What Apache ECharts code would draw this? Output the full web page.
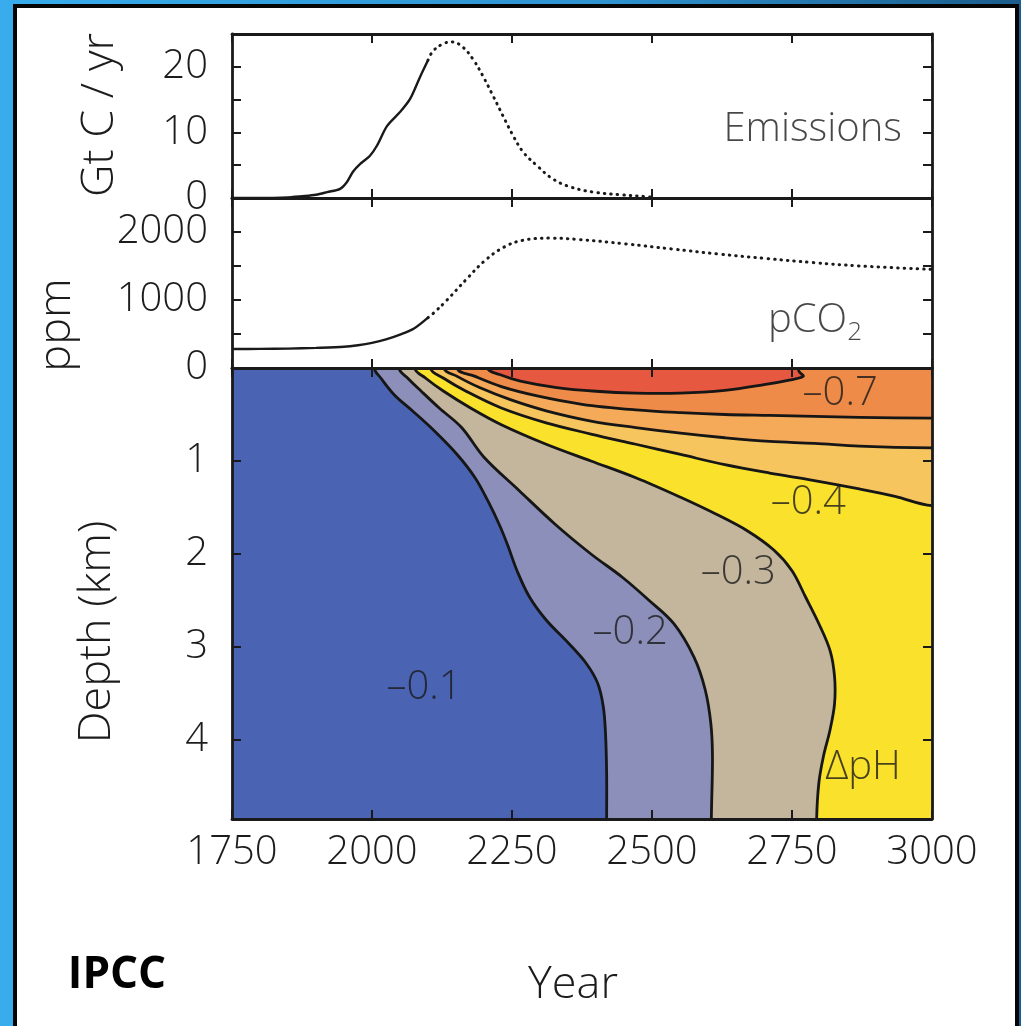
<!DOCTYPE html>
<html>
<head>
<meta charset="utf-8">
<script src="https://cdn.jsdelivr.net/npm/echarts@6/dist/echarts.min.js"></script>
<style>
  html, body { margin: 0; padding: 0; }
  body {
    width: 1021px; height: 1026px; overflow: hidden; position: relative;
    background: linear-gradient(90deg, #38acec 0%, #2f93cf 60%, #1b5d8c 100%);
  }
  #frame {
    position: absolute; left: 13px; top: 4px; width: 998px; height: 1060px;
    border: 4px solid #050505; background: #ffffff;
  }
  #chart { position: absolute; left: 0; top: 0; width: 1021px; height: 1026px; }
</style>
</head>
<body>
<div id="frame"></div>
<div id="chart"></div>
<script>
// ---- axes ----
const YEAR_MIN = 1750, YEAR_MAX = 3000, YEAR_STEP = 250;
const EMIS_MAX = 25, EMIS_STEP = 5;
const PCO2_MAX = 2500, PCO2_STEP = 500;
const DEPTH_MAX = 4.85, DEPTH_STEP = 1;

// ---- carbon emissions (Gt C / yr) ----
const emissionsHistory = [
  [1750, 0], [1800, 0], [1850, 0.1], [1880, 0.3], [1900, 0.5], [1920, 0.9],
  [1943, 1.4], [1955, 2.4], [1966, 4.0], [1979, 5.2], [1996, 6.4], [2009, 8.0],
  [2027, 11.0], [2050, 13.1], [2068, 15.1], [2086, 18.5], [2100, 21.0]
];
const emissionsProjection = [
  [2100, 21.0], [2109, 22.4], [2127, 23.5], [2143, 23.8], [2162, 23.0], [2180, 21.2],
  [2198, 18.6], [2216, 15.6], [2234, 12.5], [2252, 9.5], [2270, 7.0], [2295, 4.9],
  [2323, 2.9], [2354, 1.7], [2395, 0.9], [2443, 0.5], [2491, 0.2], [2500, 0.1]
];

// ---- atmospheric pCO2 (ppm) ----
const pco2History = [
  [1750, 280], [1800, 281], [1850, 285], [1900, 296], [1950, 312], [1975, 335],
  [2000, 370], [2025, 420], [2050, 490], [2075, 580], [2100, 740]
];
const pco2Projection = [
  [2100, 740], [2109, 800], [2134, 1000], [2168, 1300], [2201, 1575], [2235, 1775],
  [2268, 1875], [2318, 1910], [2369, 1890], [2453, 1825], [2536, 1750], [2620, 1675],
  [2704, 1610], [2788, 1550], [2872, 1500], [3000, 1450]
];

// ---- ocean pH change contours: [year, depth km] ----
const contourM01 = [
  [2004, 0], [2016, 0.11], [2040, 0.29], [2072, 0.46], [2112, 0.68], [2152, 0.93],
  [2184, 1.18], [2207, 1.43], [2227, 1.68], [2242, 1.90], [2259, 2.18], [2281, 2.46],
  [2311, 2.71], [2351, 2.96], [2383, 3.18], [2403, 3.39], [2413, 3.64], [2417, 3.93],
  [2419, 4.36], [2419, 4.85]
];
const contourM02 = [
  [2048, 0], [2064, 0.11], [2088, 0.25], [2120, 0.43], [2160, 0.64], [2200, 0.96],
  [2263, 1.32], [2327, 1.68], [2391, 2.0], [2447, 2.25], [2495, 2.5], [2539, 2.75],
  [2575, 3.11], [2595, 3.46], [2605, 3.82], [2608, 4.18], [2606, 4.85]
];
const contourM03 = [
  [2076, 0], [2096, 0.11], [2128, 0.25], [2176, 0.43], [2231, 0.61], [2311, 0.82],
  [2391, 1.0], [2471, 1.18], [2551, 1.39], [2614, 1.57], [2670, 1.75], [2718, 1.96],
  [2750, 2.18], [2774, 2.46], [2798, 2.75], [2818, 3.04], [2826, 3.32], [2826, 3.61],
  [2818, 3.89], [2806, 4.18], [2798, 4.46], [2794, 4.85]
];
const contourM04 = [
  [2104, 0], [2128, 0.11], [2168, 0.25], [2231, 0.43], [2311, 0.59], [2391, 0.71],
  [2471, 0.82], [2551, 0.93], [2630, 1.04], [2710, 1.13], [2790, 1.21], [2870, 1.30],
  [2934, 1.38], [3000, 1.48]
];
const contourM05 = [
  [2128, 0], [2152, 0.09], [2192, 0.21], [2247, 0.34], [2311, 0.46], [2391, 0.57],
  [2471, 0.64], [2551, 0.70], [2630, 0.75], [2710, 0.79], [2790, 0.81], [2870, 0.84],
  [3000, 0.86]
];
const contourM06 = [
  [2152, 0], [2184, 0.09], [2231, 0.20], [2295, 0.30], [2375, 0.39], [2471, 0.45],
  [2551, 0.48], [2630, 0.50], [2710, 0.51], [2790, 0.52], [2870, 0.53], [3000, 0.54]
];
const contourM07 = [
  [2206, 0], [2228, 0.07], [2265, 0.14], [2330, 0.21], [2400, 0.25], [2470, 0.27],
  [2550, 0.27], [2630, 0.24], [2700, 0.18], [2745, 0.13], [2770, 0.09], [2762, 0.03]
];

const contourLevels = ['–0.1', '–0.2', '–0.3', '–0.4', '–0.5', '–0.6', '–0.7'];
const contourCurves = [contourM01, contourM02, contourM03, contourM04, contourM05, contourM06, contourM07];
// how each contour leaves the section: through the sea floor, the right edge, or back to the surface
const contourExit = ['bottom', 'bottom', 'bottom', 'right', 'right', 'right', 'surface'];
const bandColors = ['#4a63b3', '#8b8fb9', '#c4b69d', '#f9e12c', '#f7c55e', '#f4aa58', '#ee8b48', '#e6583f'];

// in-panel labels: [year, depth, text]
const contourLabels = [
  [2836, 0.28, '–0.7'], [2779, 1.45, '–0.4'], [2654, 2.2, '–0.3'],
  [2461, 2.85, '–0.2'], [2093, 3.44, '–0.1'], [2877, 4.3, 'ΔpH']
];
const emissionsLabel = [[2787, 10.5, 'Emissions']];
const pco2Label = [[2791, 690, 'pCO{s|2}']];

// ---- styling ----
const INK = '#1a1a1a';
const FONT = '"Open Sans", "Liberation Sans", sans-serif';
const labelStyle = { fontFamily: FONT, fontWeight: 300, fontSize: 40, color: '#1c1c1c' };
const TITLE_FONT = '300 45px ' + FONT;

function xAxisPair(gridIndex, showLabels) {
  const base = {
    gridIndex, type: 'value', min: YEAR_MIN, max: YEAR_MAX, interval: YEAR_STEP, z: 6,
    axisLine: { show: true, onZero: false, lineStyle: { color: INK, width: 2.8 } },
    axisTick: { show: true, inside: true, length: 9, lineStyle: { color: INK, width: 2 } },
    splitLine: { show: false }
  };
  return [
    Object.assign({}, base, { position: 'bottom',
      axisLabel: Object.assign({ show: showLabels, margin: 14, formatter: v => String(v) }, labelStyle) }),
    Object.assign({}, base, { position: 'top', axisLabel: { show: false } })
  ];
}
function yAxisPair(gridIndex, opts, formatter) {
  const base = Object.assign({
    gridIndex, type: 'value', z: 6,
    axisLine: { show: true, onZero: false, lineStyle: { color: INK, width: 2.8 } },
    axisTick: { show: true, inside: true, length: 9, lineStyle: { color: INK, width: 2 } },
    splitLine: { show: false }
  }, opts);
  return [
    Object.assign({}, base, { position: 'left',
      axisLabel: Object.assign({ show: true, margin: 24, formatter }, labelStyle) }),
    Object.assign({}, base, { position: 'right', axisLabel: { show: false } })
  ];
}

// filled band for one contour, closed outside the plot so the clip trims it
function bandSeries(i) {
  const curve = contourCurves[i];
  const first = curve[0], last = curve[curve.length - 1];
  const far = YEAR_MAX + 150, above = -0.6, below = DEPTH_MAX + 0.6;
  let outline;
  if (contourExit[i] === 'bottom') {
    outline = curve.concat([[last[0], below], [far, below], [far, above], [first[0], above]]);
  } else if (contourExit[i] === 'right') {
    outline = curve.concat([[far, last[1]], [far, above], [first[0], above]]);
  } else {
    outline = curve.concat([[last[0] - 10, above], [first[0] - 10, above]]);
  }
  return {
    type: 'custom', xAxisIndex: 4, yAxisIndex: 4, clip: true, silent: true, z: 2,
    data: curve,
    renderItem: (params, api) => {
      if (params.dataIndex !== 0) return null;
      return {
        type: 'polygon',
        shape: { points: outline.map(p => api.coord(p)), smooth: 0.35 },
        style: { fill: bandColors[i + 1], stroke: '#161616', lineWidth: 2.8, lineJoin: 'round' }
      };
    }
  };
}

const textSeries = (xi, yi, data, extra) => ({
  type: 'scatter', xAxisIndex: xi, yAxisIndex: yi, symbolSize: 0, silent: true, z: 8,
  data,
  label: Object.assign({
    show: true, position: 'inside', formatter: p => p.data[2],
    fontFamily: FONT, fontWeight: 300, fontSize: 40, color: '#191919'
  }, extra || {})
});

const option = {
  animation: false,
  grid: [
    { left: 232, top: 34, width: 700, height: 164 },
    { left: 232, top: 198, width: 700, height: 170 },
    { left: 232, top: 368, width: 700, height: 451, show: true, backgroundColor: bandColors[0], borderWidth: 0 }
  ],
  xAxis: [].concat(xAxisPair(0, false), xAxisPair(1, false), xAxisPair(2, true)),
  yAxis: [].concat(
    yAxisPair(0, { min: 0, max: EMIS_MAX, interval: EMIS_STEP },
      v => (v % 10 === 0 && v < EMIS_MAX) ? String(v) : ''),
    yAxisPair(1, { min: 0, max: PCO2_MAX, interval: PCO2_STEP },
      v => (v === 1000 || v === 2000) ? String(v) : ''),
    yAxisPair(2, { min: 0, max: DEPTH_MAX, interval: DEPTH_STEP, inverse: true },
      v => Number.isInteger(v) ? String(v) : '')
  ),
  graphic: [
    { type: 'text', x: 100, y: 115, rotation: Math.PI / 2,
      style: { text: 'Gt C / yr', align: 'center', verticalAlign: 'middle', font: TITLE_FONT, fill: '#1c1c1c' } },
    { type: 'text', x: 57, y: 325, rotation: Math.PI / 2,
      style: { text: 'ppm', align: 'center', verticalAlign: 'middle', font: TITLE_FONT, fill: '#1c1c1c' } },
    { type: 'text', x: 97, y: 632, rotation: Math.PI / 2,
      style: { text: 'Depth (km)', align: 'center', verticalAlign: 'middle', font: TITLE_FONT, fill: '#1c1c1c' } },
    { type: 'text', x: 573, y: 985,
      style: { text: 'Year', align: 'center', verticalAlign: 'middle', font: TITLE_FONT, fill: '#1c1c1c' } },
    { type: 'text', x: 117, y: 975,
      style: { text: 'IPCC', align: 'center', verticalAlign: 'middle', font: 'bold 44px ' + FONT, fill: '#000' } }
  ],
  series: [
    // ocean section
    ...contourCurves.map((c, i) => bandSeries(i)),
    textSeries(4, 4, contourLabels),
    // emissions
    { type: 'line', xAxisIndex: 0, yAxisIndex: 0, data: emissionsHistory, showSymbol: false, silent: true,
      smooth: 0.3, lineStyle: { color: INK, width: 2.4 }, z: 3 },
    { type: 'line', xAxisIndex: 0, yAxisIndex: 0, data: emissionsProjection, showSymbol: false, silent: true,
      smooth: 0.4, lineStyle: { color: INK, width: 3, type: [0.5, 6], cap: 'round' }, z: 3 },
    textSeries(0, 0, emissionsLabel),
    // atmospheric CO2
    { type: 'line', xAxisIndex: 2, yAxisIndex: 2, data: pco2History, showSymbol: false, silent: true,
      smooth: 0.3, lineStyle: { color: INK, width: 2.4 }, z: 3 },
    { type: 'line', xAxisIndex: 2, yAxisIndex: 2, data: pco2Projection, showSymbol: false, silent: true,
      smooth: 0.4, lineStyle: { color: INK, width: 3, type: [0.5, 6], cap: 'round' }, z: 3 },
    textSeries(2, 2, pco2Label, {
      rich: { s: { fontFamily: FONT, fontWeight: 300, fontSize: 26, color: '#191919', padding: [24, 0, 0, 0] } }
    })
  ]
};

const chart = echarts.init(document.getElementById('chart'), null, { renderer: 'canvas' });
chart.setOption(option);
</script>
</body>
</html>
